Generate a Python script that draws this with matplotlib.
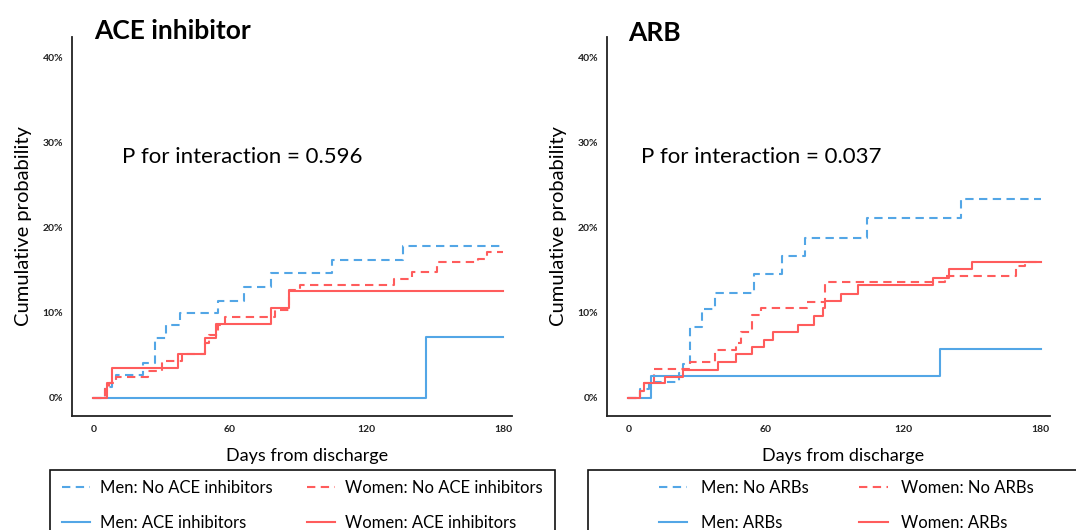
import matplotlib.pyplot as plt
from matplotlib.patches import Rectangle

# ACE inhibitor panel: event days and cumulative probability (%)
ace_men_no_t = [0, 5, 8, 10, 22, 27, 32, 38, 55, 66, 78, 105, 136]
ace_men_no_v = [0, 1.3, 2.0, 2.7, 4.1, 7.0, 8.5, 10.0, 11.4, 13.0, 14.6, 16.2, 17.8]
ace_women_no_t = [0, 5, 7, 10, 24, 30, 39, 49, 51, 55, 58, 80, 86, 91, 132, 140, 151, 169, 173]
ace_women_no_v = [0, 1.0, 1.7, 2.5, 3.2, 4.3, 5.1, 6.4, 7.4, 8.5, 9.5, 10.3, 12.6, 13.2, 14.0, 14.8, 15.9, 16.3, 17.1]
ace_men_t = [0, 146]
ace_men_v = [0, 7.1]
ace_women_t = [0, 6, 8, 37, 49, 54, 78, 86]
ace_women_v = [0, 1.7, 3.5, 5.2, 7.0, 8.7, 10.5, 12.5]

# ARB panel
arb_men_no_t = [0, 5, 9, 22, 24, 27, 32, 38, 55, 67, 77, 104, 145]
arb_men_no_v = [0, 1.0, 1.85, 2.9, 4.0, 8.3, 10.4, 12.3, 14.5, 16.6, 18.8, 21.1, 23.3]
arb_women_no_t = [0, 5, 7, 11, 27, 38, 47, 49, 54, 58, 78, 86, 138, 169, 173]
arb_women_no_v = [0, 0.8, 1.7, 3.4, 4.2, 5.6, 6.4, 7.7, 9.7, 10.6, 11.3, 13.6, 14.3, 15.5, 16.0]
arb_men_t = [0, 10, 136]
arb_men_v = [0, 2.6, 5.7]
arb_women_t = [0, 5, 7, 16, 24, 39, 47, 54, 59, 63, 74, 81, 85, 86, 93, 100, 133, 140, 150]
arb_women_v = [0, 0.8, 1.7, 2.4, 3.3, 4.2, 5.2, 6.0, 6.8, 7.7, 8.6, 9.6, 10.6, 11.4, 12.2, 13.2, 14.1, 15.1, 16.0]

x_ticks = [0, 60, 120, 180]
y_ticks = [0, 10, 20, 30, 40]
y_ticklabels = ["0%", "10%", "20%", "30%", "40%"]
end_day = 180

BLUE = "#53a6e6"
RED = "#ff5c5c"
plt.rcParams["font.family"] = ["Lato", "DejaVu Sans"]


def step(ax, t, v, color, dashed, label):
    ts = list(t) + [end_day]
    vs = list(v) + [v[-1]]
    ls = (0, (4, 2.6)) if dashed else "-"
    ax.plot(ts, vs, drawstyle="steps-post", color=color, lw=1.5,
            linestyle=ls, label=label)


def panel(ax, title, title_x, p_text, p_x, series):
    for t, v, c, d, lab in series:
        step(ax, t, v, c, d, lab)
    ax.set_xlim(-9.5, 184)
    ax.set_ylim(-2.1, 42.4)
    ax.set_xticks(x_ticks)
    ax.set_yticks(y_ticks)
    ax.set_yticklabels(y_ticklabels)
    ax.tick_params(length=0, labelsize=7.5, colors="#222222")
    ax.tick_params(axis="x", pad=7)
    ax.tick_params(axis="y", pad=6)
    for lab in ax.get_xticklabels() + ax.get_yticklabels():
        lab.set_fontweight("bold")
    for s in ["top", "right"]:
        ax.spines[s].set_visible(False)
    for s in ["left", "bottom"]:
        ax.spines[s].set_linewidth(1.3)
        ax.spines[s].set_color("#222222")
    ax.set_xlabel("Days from discharge", fontsize=13, labelpad=9)
    ax.xaxis.set_label_coords(0.534, -0.085)
    ax.set_ylabel("Cumulative probability", fontsize=14.5, labelpad=8)
    ax.text(title_x, 1.015, title, transform=ax.transAxes, fontsize=19,
            fontweight="bold", ha="left", va="center")
    ax.text(p_x, 28.3, p_text, fontsize=16, ha="left", va="center")


fig = plt.figure(figsize=(10.76, 5.30), dpi=100)
ax1 = fig.add_axes([0.0666, 0.2157, 0.4094, 0.7151])
ax2 = fig.add_axes([0.5638, 0.2157, 0.412, 0.7151])

panel(ax1, "ACE inhibitor", 0.05, "P for interaction = 0.596", 12.6, [
    (ace_men_no_t, ace_men_no_v, BLUE, True, "Men: No ACE inhibitors"),
    (ace_women_no_t, ace_women_no_v, RED, True, "Women: No ACE inhibitors"),
    (ace_men_t, ace_men_v, BLUE, False, "Men: ACE inhibitors"),
    (ace_women_t, ace_women_v, RED, False, "Women: ACE inhibitors"),
])

panel(ax2, "ARB", 0.048, "P for interaction = 0.037", 5.3, [
    (arb_men_no_t, arb_men_no_v, BLUE, True, "Men: No ARBs"),
    (arb_women_no_t, arb_women_no_v, RED, True, "Women: No ARBs"),
    (arb_men_t, arb_men_v, BLUE, False, "Men: ARBs"),
    (arb_women_t, arb_women_v, RED, False, "Women: ARBs"),
])
ax2.texts[0].set_y(1.01)

# legend boxes (cut off at the bottom like the source figure)
W, H = 1076, 530
for x0, x1 in [(50, 555), (588, 1085)]:
    fig.patches.append(Rectangle((x0 / W, -0.05), (x1 - x0) / W, 0.05 + (H - 470) / H,
                                 transform=fig.transFigure, fill=False,
                                 edgecolor="#111111", lw=1.2))


def legend_for(ax, x_anchor, textpad, colspace):
    h, l = ax.get_legend_handles_labels()
    order = [0, 2, 1, 3]
    fig.legend([h[i] for i in order], [l[i] for i in order], ncol=2,
               loc="upper left", bbox_to_anchor=(x_anchor / W, 1 - 480 / H),
               frameon=False, fontsize=12, handlelength=1.7, handletextpad=textpad,
               columnspacing=colspace, labelspacing=1.15, borderpad=0,
               borderaxespad=0)


legend_for(ax1, 62, 0.55, 2.1)
legend_for(ax2, 659, 0.8, 3.05)

fig.savefig("out.png", dpi=100)
